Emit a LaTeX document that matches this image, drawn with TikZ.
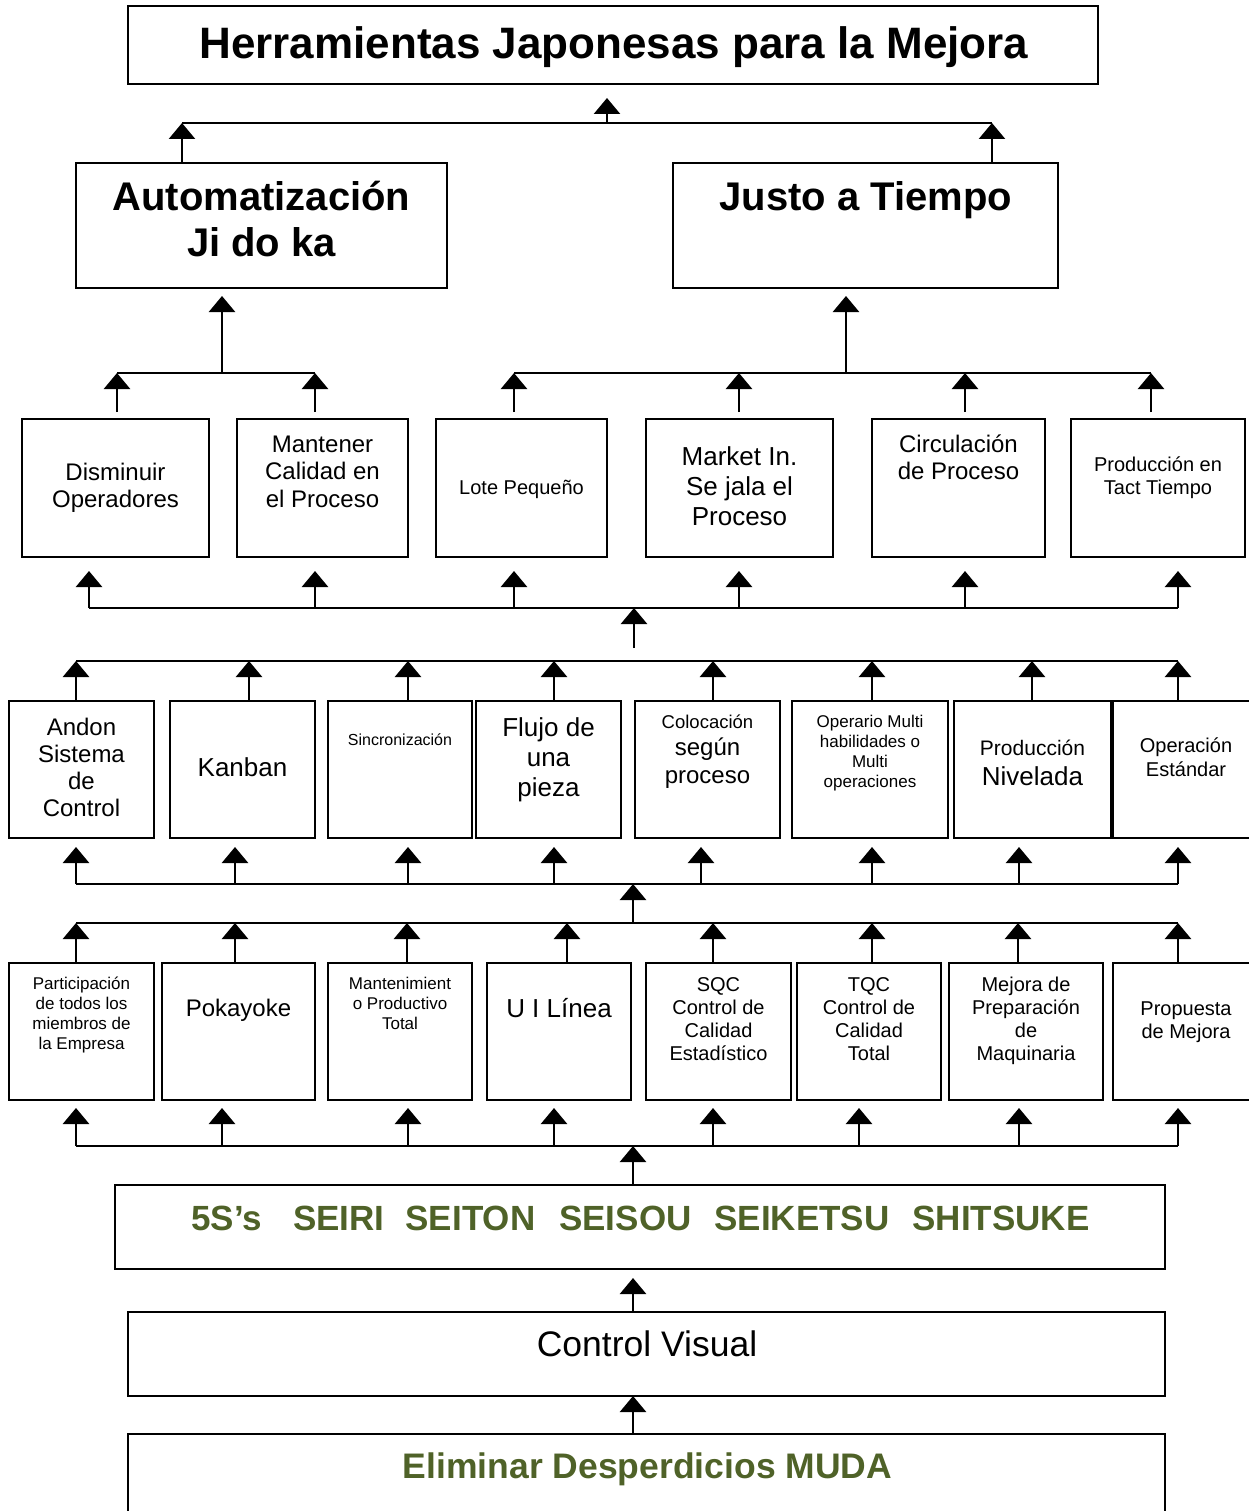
\documentclass[tikz,border=0pt]{standalone}
\usepackage{fontspec}
\setmainfont{Liberation Sans}
\usetikzlibrary{arrows.meta,fit}
\definecolor{mudagreen}{HTML}{4F6228}

\begin{document}
\begin{tikzpicture}[x=1pt,y=-1pt,
  box/.style={draw, line width=1.8pt, inner sep=0pt, outer sep=0pt},
  wire/.style={line width=2.6pt},
  arr/.style={wire, -{Triangle[width=26pt,length=16pt]}},
  % text blocks are placed by the baseline of their last line
  txt/.style={align=center, inner sep=0pt, anchor=base},
]
\useasboundingbox (0,0) rectangle (1248,1511);

% ---------- title ----------
\node[box, fit={(128,6) (1098,84)}] (top) {};
\node[txt, font=\fontsize{44}{50}\selectfont\bfseries] at (614,59) {Herramientas Japonesas para la Mejora};

% ---------- two pillars ----------
\node[box, fit={(76,163) (447,288)}] (jid) {};
\node[txt, font=\fontsize{40}{46}\selectfont\bfseries] at (261.5,257) {Automatización\\Ji do ka};
\node[box, fit={(673,163) (1058,288)}] (jat) {};
\node[txt, font=\fontsize{40}{46}\selectfont\bfseries] at (866,211) {Justo a Tiempo};

\coordinate (tb-l) at (182,123);
\coordinate (tb-m) at (607,123);
\coordinate (tb-r) at (992,123);
\draw[wire] (tb-l) -- (tb-r);
\draw[arr] (jid.north -| tb-l) -- (tb-l);
\draw[arr] (jat.north -| tb-r) -- (tb-r);
\draw[arr] (tb-m) -- ([yshift=-14pt]top.south -| tb-m);

% ---------- goals ----------
\node[box, fit={(22,419) (209,557)}] (dis) {};
\node[txt, font=\fontsize{24}{27}\selectfont] at (115.5,507) {Disminuir\\Operadores};
\node[box, fit={(237,419) (408,557)}] (man) {};
\node[txt, font=\fontsize{24}{27.5}\selectfont] at (322.5,507) {Mantener\\Calidad en\\el Proceso};
\node[box, fit={(436,419) (607,557)}] (lot) {};
\node[txt, font=\fontsize{20}{23}\selectfont] at (521.5,494) {Lote Pequeño};
\node[box, fit={(646,419) (833,557)}] (mkt) {};
\node[txt, font=\fontsize{26}{30}\selectfont] at (739.5,525) {Market In.\\Se jala el\\Proceso};
\node[box, fit={(872,419) (1045,557)}] (cir) {};
\node[txt, font=\fontsize{24}{27}\selectfont] at (958.5,479) {Circulación\\de Proceso};
\node[box, fit={(1071,419) (1245,557)}] (tac) {};
\node[txt, font=\fontsize{20}{23}\selectfont] at (1158,494) {Producción en\\Tact Tiempo};

% goals up to the pillars
\foreach \n/\x in {dis/117, man/315, lot/514, mkt/739, cir/965, tac/1151} {
  \coordinate (g-\n) at (\x,373);
  \draw[arr] ([yshift=7pt]\n.north -| g-\n) -- (g-\n);
}
\coordinate (g-jid) at (222,373);
\coordinate (g-jat) at (846,373);
\draw[wire] (g-dis) -- (g-man);
\draw[wire] (g-lot) -- (g-tac);
\draw[arr] (g-jid) -- ([yshift=-8pt]jid.south -| g-jid);
\draw[arr] (g-jat) -- ([yshift=-8pt]jat.south -| g-jat);

% bus under the goals
\foreach \n/\x in {dis/89, man/315, lot/514, mkt/739, cir/965, tac/1178} {
  \coordinate (h-\n) at (\x,608);
  \draw[arr] (h-\n) -- ([yshift=-14pt]\n.south -| h-\n);
}
\draw[wire] (h-dis) -- (h-tac);
\coordinate (h-mid) at (634,608);
\coordinate (h-tail) at (634,648);
\draw[arr] (h-tail) -- (h-mid);

% ---------- techniques, upper row ----------
\node[box, fit={(9,701) (154,838)}] (and) {};
\node[txt, font=\fontsize{24}{27}\selectfont] at (81.5,816) {Andon\\Sistema\\de\\Control};
\node[box, fit={(170,701) (315,838)}] (kan) {};
\node[txt, font=\fontsize{26}{30}\selectfont] at (242.5,776) {Kanban};
\node[box, fit={(328,701) (472,838)}] (sin) {};
\node[txt, font=\fontsize{16}{19}\selectfont] at (400,745) {Sincronización};
\node[box, fit={(476,701) (621,838)}] (flu) {};
\node[txt, font=\fontsize{26}{30}\selectfont] at (548.5,796) {Flujo de\\una\\pieza};
\node[box, fit={(635,701) (780,838)}] (col) {};
\node[txt, font=\fontsize{18.5}{21}\selectfont] at (707.5,728) {Colocación};
\node[txt, font=\fontsize{24}{27}\selectfont] at (707.5,755) {según};
\node[txt, font=\fontsize{24}{27}\selectfont] at (707.5,783) {proceso};
\node[box, fit={(792,701) (948,838)}] (ope) {};
\node[txt, font=\fontsize{17}{20}\selectfont] at (870,787) {Operario Multi\\habilidades o\\Multi\\operaciones};
\node[box, fit={(954,701) (1111,838)}] (niv) {};
\node[txt, font=\fontsize{21}{24}\selectfont] at (1032.5,755) {Producción};
\node[txt, font=\fontsize{26}{30}\selectfont] at (1032.5,785) {Nivelada};
\node[box, fit={(1113,701) (1259,838)}] (est) {};
\node[txt, font=\fontsize{20}{24}\selectfont] at (1186,776) {Operación\\Estándar};

\foreach \n/\x in {and/76, kan/249, sin/408, flu/554, col/713, ope/872, niv/1032, est/1178} {
  \coordinate (p-\n) at (\x,661);
  \draw[arr] (\n.north -| p-\n) -- (p-\n);
}
\draw[wire] (p-and) -- (p-est);

\foreach \n/\x in {and/76, kan/235, sin/408, flu/554, col/701, ope/872, niv/1019, est/1178} {
  \coordinate (q-\n) at (\x,884);
  \draw[arr] (q-\n) -- ([yshift=-9pt]\n.south -| q-\n);
}
\draw[wire] (q-and) -- (q-est);
\coordinate (q-mid) at (633,884);

% ---------- techniques, lower row ----------
\node[box, fit={(9,963) (154,1100)}] (par) {};
\node[txt, font=\fontsize{17}{20}\selectfont] at (81.5,1049) {Participación\\de todos los\\miembros de\\la Empresa};
\node[box, fit={(162,963) (315,1100)}] (pok) {};
\node[txt, font=\fontsize{24}{27}\selectfont] at (238.5,1016) {Pokayoke};
\node[box, fit={(328,963) (472,1100)}] (mtp) {};
\node[txt, font=\fontsize{17}{20}\selectfont] at (400,1029) {Mantenimient\\o Productivo\\Total};
\node[box, fit={(487,963) (631,1100)}] (uil) {};
\node[txt, font=\fontsize{26}{30}\selectfont] at (559,1017) {U I Línea};
\node[box, fit={(646,963) (791,1100)}] (sqc) {};
\node[txt, font=\fontsize{20}{22.7}\selectfont] at (718.5,1060) {SQC\\Control de\\Calidad\\Estadístico};
\node[box, fit={(797,963) (941,1100)}] (tqc) {};
\node[txt, font=\fontsize{20}{22.7}\selectfont] at (869,1060) {TQC\\Control de\\Calidad\\Total};
\node[box, fit={(949,963) (1103,1100)}] (mej) {};
\node[txt, font=\fontsize{20}{22.7}\selectfont] at (1026,1060) {Mejora de\\Preparación\\de\\Maquinaria};
\node[box, fit={(1113,963) (1259,1100)}] (pro) {};
\node[txt, font=\fontsize{20}{23}\selectfont] at (1186,1038) {Propuesta\\de Mejora};

\foreach \n/\x in {par/76, pok/235, mtp/407, uil/567, sqc/713, tqc/872, mej/1018, pro/1178} {
  \coordinate (r-\n) at (\x,923);
  \draw[arr] (\n.north -| r-\n) -- (r-\n);
}
\draw[wire] (r-par) -- (r-pro);
\coordinate (r-mid) at (633,923);
\draw[arr] (r-mid) -- (q-mid);

\foreach \n/\x in {par/76, pok/222, mtp/408, uil/554, sqc/713, tqc/859, mej/1019, pro/1178} {
  \coordinate (s-\n) at (\x,1146);
  \draw[arr] (s-\n) -- ([yshift=-8pt]\n.south -| s-\n);
}
\draw[wire] (s-par) -- (s-pro);
\coordinate (s-mid) at (633,1146);

% ---------- foundation ----------
\node[box, fit={(115,1185) (1165,1269)}] (fives) {};
\node[txt, text=mudagreen, font=\fontsize{35}{40}\selectfont\bfseries] at (640.5,1230.5)
  {5S’s\hspace{31pt}SEIRI\hspace{21pt}SEITON\hspace{24pt}SEISOU\hspace{23pt}SEIKETSU\hspace{23pt}SHITSUKE};
\node[box, fit={(128,1312) (1165,1396)}] (cvis) {};
\node[txt, font=\fontsize{35.5}{40}\selectfont] at (647,1356) {Control Visual};
\node[box, fit={(128,1434) (1165,1530)}] (muda) {};
\node[txt, text=mudagreen, font=\fontsize{35.5}{40}\selectfont\bfseries] at (647.5,1478) {Eliminar Desperdicios MUDA};

\draw[arr] (fives.north -| s-mid) -- (s-mid);
\draw[arr] (cvis.north -| s-mid) -- ([yshift=-9pt]fives.south -| s-mid);
\draw[arr] (muda.north -| s-mid) -- (cvis.south -| s-mid);

\end{tikzpicture}
\end{document}
